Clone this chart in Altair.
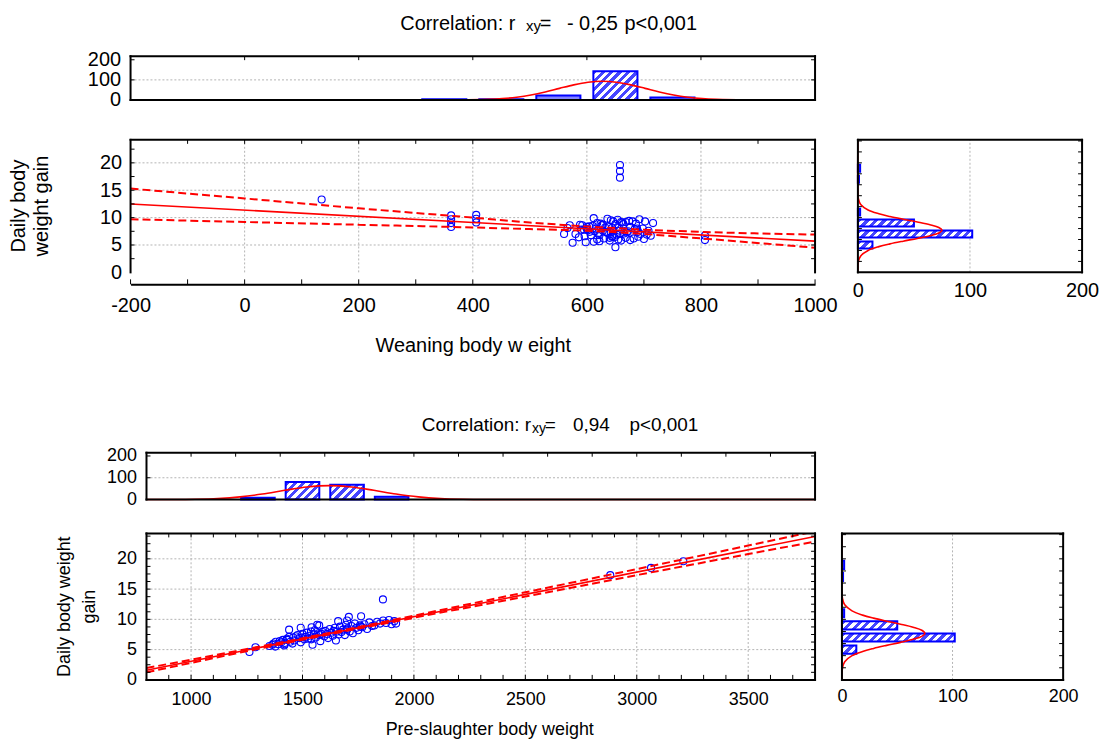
import altair as alt
import pandas as pd

FONT = "Liberation Sans"
BLUE = "#0000ff"
RED = "#ff0000"
HATCH = "#8484ff"
HB = "#4646ff"
HW = "#ffffff"
GRID = "#b4b4b4"

# ---------------- data ----------------
# one entry per animal: daily body weight gain, weaning weight, pre-slaughter weight
gain = [13.3, 10.4, 9.7, 9.0, 8.3, 10.5, 9.8, 9.1, 19.6, 18.5, 17.3, 6.7, 5.9, 4.6, 5.4,
        5.6, 5.8, 5.5, 6.0, 5.9, 6.2, 6.4, 6.1, 5.7, 6.6,
        6.3, 6.8, 7.0, 6.5, 6.0, 7.2, 6.9, 7.4, 6.2, 7.6,
        7.1, 6.7, 7.8, 7.3, 5.8, 8.0, 7.5, 7.0, 8.2, 7.7,
        6.4, 7.9, 7.2, 8.1, 7.6, 6.9, 8.4, 7.8, 7.3, 8.6,
        6.5, 8.0, 7.5, 8.8, 7.9, 8.3, 7.4, 9.1, 8.5, 8.0,
        8.9, 7.7, 9.3, 8.6, 8.2, 9.0, 8.7, 9.2, 8.4, 9.5,
        8.9, 9.0, 9.6, 9.3, 9.8, 9.4, 9.9, 9.2, 9.7, 9.3,
        7.0, 7.6, 8.1, 6.8, 7.4, 8.3, 8.8, 6.3, 6.6, 7.1,
        8.6, 8.7]
weaning = [135, 362, 362, 362, 362, 406, 406, 406, 658, 658, 658, 807, 807, 650, 575,
           612, 640, 598, 655, 676, 630, 586, 700, 622, 645,
           668, 607, 560, 690, 618, 636, 652, 605, 682, 628,
           665, 712, 590, 642, 660, 616, 672, 694, 632, 602,
           648, 684, 620, 566, 658, 705, 638, 595, 670, 626,
           644, 688, 614, 650, 600, 676, 634, 662, 610, 698,
           624, 646, 680, 592, 656, 716, 628, 668, 604, 642,
           686, 618, 654, 702, 636, 674, 612, 660, 692, 646,
           580, 708, 644, 622, 690, 600, 664, 640, 596, 658,
           570, 588]
preslaughter = [1861, 1708, 1660, 1575, 1440, 1763, 1700, 1566, 3209, 3064, 2881, 1540, 1420, 1262, 1289,
                1352, 1365, 1378, 1370, 1392, 1405, 1398, 1420, 1418, 1432,
                1445, 1430, 1458, 1462, 1455, 1470, 1485, 1478, 1492, 1500,
                1512, 1508, 1520, 1530, 1545, 1538, 1552, 1560, 1555, 1572,
                1580, 1590, 1598, 1602, 1610, 1615, 1622, 1630, 1636, 1645,
                1650, 1655, 1662, 1668, 1675, 1682, 1690, 1695, 1702, 1712,
                1720, 1726, 1735, 1742, 1750, 1758, 1768, 1778, 1790, 1800,
                1812, 1822, 1835, 1848, 1862, 1875, 1888, 1900, 1912, 1920,
                1495, 1585, 1640, 1525, 1575, 1700, 1760, 1380, 1412, 1440,
                1492, 1541]

# regression lines and confidence bands
reg1_x = [-200, 1000]
reg1_y = [12.5, 5.7]
band1_x = [-200, 0, 200, 400, 500, 600, 700, 800, 1000]
band1_hi = [15.3, 13.5, 11.7, 10.0, 9.1, 8.4, 7.8, 7.4, 6.9]
band1_lo = [9.7, 9.2, 8.7, 8.2, 7.9, 7.6, 7.0, 6.2, 4.5]

reg2_x = [800, 3800]
reg2_y = [1.6, 23.7]
band2_x = [800, 1200, 1600, 2000, 2500, 3000, 3500, 3800]
band2_hi = [1.95, 4.75, 7.61, 10.62, 14.47, 18.31, 22.19, 24.55]
band2_lo = [1.25, 4.35, 7.37, 10.26, 13.77, 17.31, 20.79, 22.85]

# histograms (visible bars)
top1_lo = [300, 400, 500, 600, 700]
top1_hi = [400, 500, 600, 700, 800]
top1_n = [4, 4, 22, 143, 12]
top2_lo = [1200, 1400, 1600, 1800]
top2_hi = [1400, 1600, 1800, 2000]
top2_n = [8, 80, 68, 13]
gain_lo = [4, 6, 8, 10, 16, 18]
gain_hi = [6, 8, 10, 12, 18, 20]
gain_n = [13, 102, 50, 2, 1, 2]

# fitted normal curves
top1_cx = [-200, 300, 377, 427, 452, 477, 502, 527, 552, 577, 602, 627, 652, 677, 702, 727, 752, 777, 802, 827, 877, 950, 1000]
top1_cy = [0, 0, 0.5, 3.2, 7, 14, 24.9, 40, 57.9, 75.3, 88.2, 93, 88.2, 75.3, 57.9, 40, 24.9, 14, 7, 3.2, 0.5, 0, 0]
top2_cx = [800, 920, 1020, 1120, 1220, 1320, 1420, 1520, 1620, 1720, 1820, 1920, 2020, 2120, 2220, 2320, 2500, 3800]
top2_cy = [0, 0.3, 1.5, 4.8, 12.3, 25.3, 42.3, 57.7, 64, 57.7, 42.3, 25.3, 12.3, 4.8, 1.5, 0.3, 0, 0]
side_cg = [0, 2.0, 3.0, 4.0, 4.7, 5.2, 5.7, 6.2, 6.7, 7.2, 7.7, 8.2, 8.7, 9.2, 9.7, 10.2, 10.7, 11.4, 12.4, 13.4, 15.0, 24.2]
side_cn = [0, 0.5, 2.5, 9.1, 18.7, 28.6, 40.4, 53, 64.3, 72.2, 75, 72.2, 64.3, 53, 40.4, 28.6, 18.7, 9.1, 2.5, 0.5, 0, 0]

# axis labels, gridlines and tick marks
x1_labels = [-200, 0, 200, 400, 600, 800, 1000]
x1_grid = [0, 200, 400, 600, 800]
x1_minor = list(range(-200, 1001, 100))
x2_labels = [1000, 1500, 2000, 2500, 3000, 3500]
x2_minor = list(range(900, 3800, 100))
top2_ticks = list(range(1000, 3700, 200))
y_labels = [0, 5, 10, 15, 20]
y_grid = [5, 10, 15, 20]
y1_minor = [2.5, 5, 7.5, 10, 12.5, 15, 17.5, 20, 22.5]
y2_minor = [i * 1.25 for i in range(1, 20)]
side_ticks = list(range(2, 25, 2))
count_labels = [0, 100, 200]

animals = pd.DataFrame({"gain": gain, "wean": weaning, "pre": preslaughter})
NOVIEW = alt.ViewBackground(stroke="transparent", strokeWidth=0)


def S(dom, rng=None):
    if rng is None:
        return alt.Scale(domain=dom, nice=False, zero=False)
    return alt.Scale(domain=dom, range=rng, nice=False, zero=False)


def AX(**kw):
    base = dict(labelFont=FONT, titleFont=FONT, labelColor="black", titleColor="black",
                domain=False, domainColor="black", domainWidth=2, ticks=False, tickSize=0, grid=False,
                labelFlush=False, labelOverlap=False, labelBound=False,
                titleFontWeight="normal", labelExpr="'' + datum.value", title=None)
    base.update(kw)
    return alt.Axis(**base)


def hatch(wpx, hpx, period=6.0, share=0.5):
    """diagonal '/' hatch as a striped gradient over a bar of wpx x hpx pixels"""
    s = (1 / hpx + 1 / wpx) / (1 / hpx ** 2 + 1 / wpx ** 2)
    n = (wpx + hpx) / (2 ** 0.5 * period)
    stops = []
    k = 0
    while k / n < 1:
        a = k / n
        m = min((k + share) / n, 1.0)
        b = min((k + 1) / n, 1.0)
        stops += [alt.GradientStop(offset=a, color=HB), alt.GradientStop(offset=m, color=HB)]
        if m < 1:
            stops += [alt.GradientStop(offset=m, color=HW), alt.GradientStop(offset=b, color=HW)]
        k += 1
    return alt.LinearGradient(gradient="linear", x1=0, y1=0, x2=s / hpx, y2=s / wpx, stops=stops)


def rules_x(vals, scale, y0, y1):
    return alt.Chart(pd.DataFrame({"v": vals})).mark_rule(color="black", strokeWidth=1).encode(
        x=alt.X("v:Q", scale=scale, axis=None), y=alt.value(y0), y2=alt.value(y1))


def rules_y(vals, scale, x0, x1):
    return alt.Chart(pd.DataFrame({"v": vals})).mark_rule(color="black", strokeWidth=1).encode(
        y=alt.Y("v:Q", scale=scale, axis=None), x=alt.value(x0), x2=alt.value(x1))


def segs(rows, xs, ys, color, width, dash=None):
    df = pd.DataFrame(rows, columns=["x", "x2", "y", "y2"])
    kw = dict(color=color, strokeWidth=width, strokeCap="square")
    if dash:
        kw = dict(color=color, strokeWidth=width, strokeDash=dash)
    return alt.Chart(df).mark_rule(**kw).encode(
        x=alt.X("x:Q", scale=xs, axis=None), x2="x2:Q",
        y=alt.Y("y:Q", scale=ys, axis=None), y2="y2:Q")


def frame(xs, ys, xd, yd, sides="tblr"):
    rows = []
    if "t" in sides:
        rows.append([xd[0], xd[1], yd[1], yd[1]])
    if "b" in sides:
        rows.append([xd[0], xd[1], yd[0], yd[0]])
    if "l" in sides:
        rows.append([xd[0], xd[0], yd[0], yd[1]])
    if "r" in sides:
        rows.append([xd[1], xd[1], yd[0], yd[1]])
    return segs(rows, xs, ys, "black", 2)


def grid(xs, ys, xd, yd, xvals, yvals):
    rows = [[v, v, yd[0], yd[1]] for v in xvals] + [[xd[0], xd[1], v, v] for v in yvals]
    return segs(rows, xs, ys, GRID, 1, [2, 2])


def text_piece(s, x, y, size, angle=0, align="left"):
    return alt.Chart(pd.DataFrame({"t": [s]})).mark_text(
        align=align, baseline="alphabetic", font=FONT, fontSize=size, color="black", angle=angle
    ).encode(text="t:N", x=alt.value(x), y=alt.value(y))


def spacer(w, h):
    return alt.Chart(pd.DataFrame({"a": [0]})).mark_rect(opacity=0).encode(
        x=alt.value(0), x2=alt.value(w), y=alt.value(0), y2=alt.value(h)
    ).properties(width=w, height=h, view=NOVIEW)


YD = [0, 24.2]
YS = S(YD)


def scatter_panel(xfield, xs, xd, w, h, px0, px1, x_axis, y_axis, reg_x, reg_y, band_x, band_hi, band_lo,
                  xgrid, xt_top, xt_bot, bot_y, yt, frame_sides, ytitle):
    pts = alt.Chart(animals).mark_point(shape="circle", filled=False, color=BLUE, size=50,
                                        strokeWidth=1.1, opacity=1).encode(
        x=alt.X(f"{xfield}:Q", scale=xs, axis=x_axis),
        y=alt.Y("gain:Q", scale=YS, axis=y_axis))
    n = len(band_x)
    band = alt.Chart(pd.DataFrame({"x": band_x + band_x, "y": band_hi + band_lo,
                                   "side": ["upper"] * n + ["lower"] * n})).mark_line(
        color=RED, strokeWidth=2, strokeDash=[8, 4], interpolate="monotone", clip=True).encode(
        x=alt.X("x:Q", scale=xs, axis=None), y=alt.Y("y:Q", scale=YS, axis=None), detail="side:N")
    reg = alt.Chart(pd.DataFrame({"x": reg_x, "y": reg_y})).mark_line(
        color=RED, strokeWidth=1.6, clip=True).encode(
        x=alt.X("x:Q", scale=xs, axis=None), y=alt.Y("y:Q", scale=YS, axis=None))
    layers = [grid(xs, YS, xd, YD, xgrid, y_grid), pts, band, reg, frame(xs, YS, xd, YD, frame_sides),
              rules_x(xt_top, xs, 0, 4), rules_x(xt_bot, xs, bot_y - 5, bot_y),
              rules_y(yt, YS, px0, px0 + 4), rules_y(yt, YS, px1 - 4, px1)] + ytitle
    return alt.layer(*layers).resolve_axis(x="independent", y="independent").properties(
        width=w, height=h, view=NOVIEW)


def top_panel(lo, hi, n, cx, cy, xs, xd, w, h, px0, px1, ymax, fs, inset, xt, yoff, extra):
    yd = [0, ymax]
    ys = S(yd)
    pxu = (px1 - px0) / (xd[1] - xd[0])
    bar_layers = []
    for i in range(len(n)):
        wpx = (hi[i] - lo[i]) * pxu - 2 * inset
        hpx = n[i] * h / ymax
        fill = hatch(wpx, hpx) if hpx >= 5 else HATCH
        bar_layers.append(alt.Chart(pd.DataFrame({"lo": [lo[i]], "hi": [hi[i]], "n": [n[i]]})).mark_bar(
            color=fill, stroke=BLUE, strokeWidth=2, xOffset=inset, x2Offset=-inset).encode(
            x=alt.X("lo:Q", scale=xs, axis=None), x2="hi:Q",
            y=alt.Y("n:Q", scale=ys, axis=None), y2=alt.datum(0)))
    labels = alt.Chart(pd.DataFrame({"n": count_labels})).mark_point(opacity=0).encode(
        x=alt.value(px0),
        y=alt.Y("n:Q", scale=ys, axis=AX(orient="left", values=count_labels, labelFontSize=fs,
                                        labelPadding=10, offset=yoff)))
    curve = alt.Chart(pd.DataFrame({"x": cx, "n": cy})).mark_line(
        color=RED, strokeWidth=1.6, interpolate="monotone").encode(
        x=alt.X("x:Q", scale=xs, axis=None), y=alt.Y("n:Q", scale=ys, axis=None))
    layers = [grid(xs, ys, xd, yd, [], [100]), labels] + bar_layers + [
        curve, frame(xs, ys, xd, yd), rules_x(xt, xs, 0, 4),
        rules_y([100, 200], ys, px0, px0 + 4), rules_y([100, 200], ys, px1 - 4, px1)] + extra
    return alt.layer(*layers).resolve_axis(x="independent", y="independent").properties(
        width=w, height=h, view=NOVIEW)


def side_panel(w, h, rng, fs):
    xd = [0, 200]
    xs = S(xd, rng)
    pxc = (rng[1] - rng[0]) / 200
    bar_layers = []
    for i in range(len(gain_n)):
        wpx = gain_n[i] * pxc
        hpx = (gain_hi[i] - gain_lo[i]) * h / YD[1] - 4
        fill = hatch(wpx, hpx) if wpx >= 5 else HATCH
        bar_layers.append(alt.Chart(pd.DataFrame({"lo": [gain_lo[i]], "hi": [gain_hi[i]], "n": [gain_n[i]]})).mark_bar(
            color=fill, stroke=BLUE, strokeWidth=2, yOffset=-2, y2Offset=2).encode(
            y=alt.Y("lo:Q", scale=YS, axis=None), y2="hi:Q",
            x=alt.X("n:Q", scale=xs, axis=None), x2=alt.datum(0)))
    labels = alt.Chart(pd.DataFrame({"n": count_labels})).mark_point(opacity=0).encode(
        y=alt.value(h),
        x=alt.X("n:Q", scale=xs, axis=AX(orient="bottom", values=count_labels, labelFontSize=fs,
                                        labelPadding=8)))
    curve = alt.Chart(pd.DataFrame({"g": side_cg, "n": side_cn})).mark_line(
        color=RED, strokeWidth=1.6, interpolate="catmull-rom").encode(
        x=alt.X("n:Q", scale=xs, axis=None), y=alt.Y("g:Q", scale=YS, axis=None), order=alt.Order("g:Q"))
    layers = [grid(xs, YS, xd, YD, [100], []), labels] + bar_layers + [
        curve, frame(xs, YS, xd, YD),
        rules_y(side_ticks, YS, rng[0], rng[0] + 4), rules_y(side_ticks, YS, rng[1] - 4, rng[1])]
    return alt.layer(*layers).resolve_axis(x="independent", y="independent").properties(
        width=w, height=h, view=NOVIEW)


# ---------------- block 1 (grid cell origin: page x 131) ----------------
XD1 = [-200, 1000]
XS1 = S(XD1)
W, H1 = 687, 133
title1 = alt.layer(
    text_piece("Correlation: r", 270.7, 20.3, 20),
    text_piece("xy", 397, 21.5, 15),
    text_piece("=", 410.7, 20.3, 20),
    text_piece("- 0,25", 438, 20.3, 20),
    text_piece("p<0,001", 495.7, 20.3, 20),
).properties(width=W, height=47, view=NOVIEW)

top1 = top_panel(top1_lo, top1_hi, top1_n, top1_cx, top1_cy, XS1, XD1, W, 44, 0, W, 218, 20, 6.5,
                 x1_grid, 0, [])

ytitle1 = [text_piece("Daily body", -106.2, H1 / 2, 20, angle=270, align="center"),
           text_piece("weight gain", -82.5, H1 / 2, 20, angle=270, align="center")]
scatter1 = scatter_panel(
    "wean", XS1, XD1, W, H1, 0, W,
    AX(orient="bottom", offset=12, domain=True, values=x1_labels, labelFontSize=20, labelPadding=11,
       title="Weaning body w eight", titleFontSize=20, titlePadding=20),
    AX(orient="left", values=y_labels, labelFontSize=20, labelPadding=9),
    reg1_x, reg1_y, band1_x, band1_hi, band1_lo, x1_grid,
    x1_minor[1:-1], x1_minor, H1 + 12, y1_minor, "tlr", ytitle1)

side1 = side_panel(225, H1, [0, 225], 20)

# ---------------- block 2 (same grid cells, plots shifted inside them) ----------------
XD2 = [800, 3800]
XS2 = S(XD2, [16, 687])
H2 = 147
title2 = [
    text_piece("Correlation: r", 292.3, -21.3, 19),
    text_piece("xy", 403, -20, 14),
    text_piece("=", 415.7, -21.3, 19),
    text_piece("0,94", 444, -21.3, 19),
    text_piece("p<0,001", 500.7, -21.3, 19),
]
top2 = top_panel(top2_lo, top2_hi, top2_n, top2_cx, top2_cy, XS2, XD2, W, 47, 16, W, 215, 18, 5.5,
                 top2_ticks, -16, title2)

ytitle2 = [text_piece("Daily body weight", -61, H2 / 2, 18, angle=270, align="center"),
           text_piece("gain", -36, H2 / 2, 18, angle=270, align="center")]
scatter2 = scatter_panel(
    "pre", XS2, XD2, W, H2, 16, W,
    AX(orient="bottom", values=x2_labels, labelFontSize=18, labelPadding=11,
       title="Pre-slaughter body weight", titleFontSize=18, titlePadding=12, titleX=360),
    AX(orient="left", values=y_labels, labelFontSize=18, labelPadding=10, offset=-16),
    reg2_x, reg2_y, band2_x, band2_hi, band2_lo, x2_labels,
    x2_minor, x2_minor, H2, y2_minor, "tblr", ytitle2)

side2 = side_panel(225, H2, [-16, 206], 18)

cells = [
    spacer(123, 47), title1, spacer(43, 1), spacer(225, 1),
    spacer(123, 84), top1, spacer(43, 1), spacer(225, 1),
    spacer(123, 314), scatter1, spacer(43, 1), side1,
    spacer(123, 81), top2, spacer(43, 1), spacer(225, 1),
    spacer(123, 147), scatter2, spacer(43, 1), side2,
]

chart = alt.concat(
    *cells, columns=4, spacing=0, bounds="flush", align="each",
).properties(
    autosize=alt.AutoSizeParams(type="none"),
    padding={"left": 0, "top": 0, "right": 1098, "bottom": 731},
).configure(
    font=FONT, view=alt.ViewConfig(stroke="transparent", strokeWidth=0)
)

chart.save("out.html", embed_options={"renderer": "svg", "actions": False})
